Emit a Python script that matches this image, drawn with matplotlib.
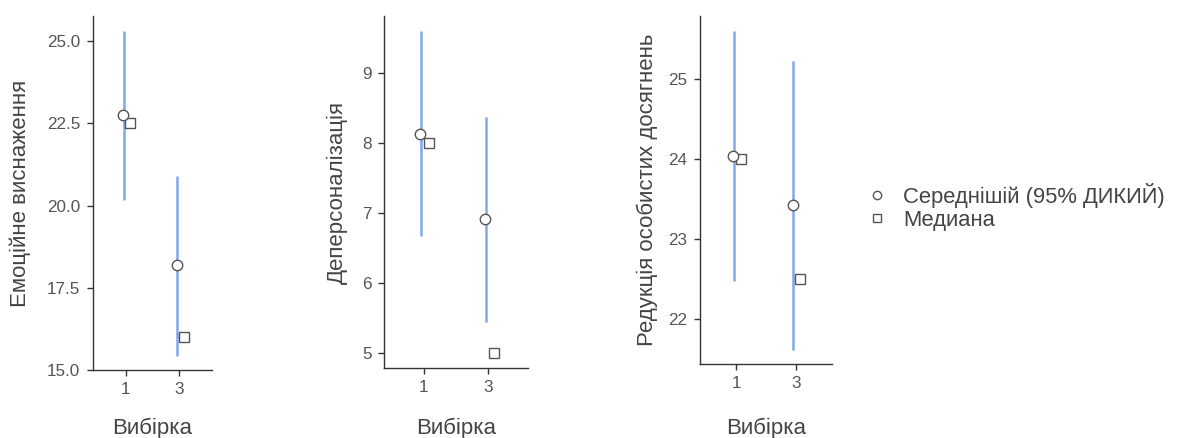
"""Mean (95% CI) and median by sample, three burnout scales side by side."""
import matplotlib
matplotlib.use("Agg")
import matplotlib.pyplot as plt
from matplotlib.lines import Line2D

plt.rcParams["font.family"] = ["Liberation Sans", "DejaVu Sans"]

# ---- data ----
groups = ["1", "3"]
ylabels = ["Емоційне виснаження", "Деперсоналізація", "Редукція особистих досягнень"]
means = [[22.75, 18.18], [8.13, 6.91], [24.04, 23.43]]
ci_low = [[20.18, 15.43], [6.66, 5.44], [22.48, 21.62]]
ci_high = [[25.30, 20.91], [9.60, 8.36], [25.60, 25.23]]
medians = [[22.5, 16.0], [8.0, 5.0], [24.0, 22.5]]
yticks = [[15.0, 17.5, 20.0, 22.5, 25.0], [5, 6, 7, 8, 9], [22, 23, 24, 25]]
ytick_fmt = ["{:.1f}", "{:.0f}", "{:.0f}"]
ylims = [(15.0, 25.76), (4.78, 9.81), (21.44, 25.79)]
legend_labels = ["Середнішій (95% ДИКИЙ)", "Медиана"]

CI_COLOR = "#7ea9ee"
EDGE = "#555555"
TEXT = "#444444"

W, H = 1190, 438
# axes boxes in pixels: left, right, top, bottom
boxes = [(93, 212, 16, 370), (384, 528, 16, 368), (700, 832, 16, 364)]
ylabel_x = [20, 337, 647]

fig = plt.figure(figsize=(W / 100, H / 100), dpi=100)

for i, (l, r, t, b) in enumerate(boxes):
    ax = fig.add_axes([l / W, 1 - b / H, (r - l) / W, (b - t) / H])
    xs = list(range(len(groups)))
    for j, x in enumerate(xs):
        ax.plot([x - 0.04, x - 0.04], [ci_low[i][j], ci_high[i][j]],
                color=CI_COLOR, lw=1.8, solid_capstyle="butt", zorder=1)
    ax.plot([x - 0.05 for x in xs], means[i], "o", ms=7.5, mfc="white",
            mec=EDGE, mew=1.0, ls="none", zorder=3)
    ax.plot([x + 0.08 for x in xs], medians[i], "s", ms=6.5, mfc="white",
            mec=EDGE, mew=1.0, ls="none", zorder=2)

    ax.set_xlim(-0.61, 1.61)
    ax.set_ylim(*ylims[i])
    ax.set_xticks(xs)
    ax.set_xticklabels(groups)
    ax.set_yticks(yticks[i])
    ax.set_yticklabels([ytick_fmt[i].format(v) for v in yticks[i]])

    for side in ("top", "right"):
        ax.spines[side].set_visible(False)
    for side in ("left", "bottom"):
        ax.spines[side].set_color("#333333")
        ax.spines[side].set_linewidth(1.0)
    ax.tick_params(axis="both", length=4, width=1.0, color="#333333",
                   labelcolor="#555555", labelsize=12.3, pad=5)

    # axis titles placed in figure pixels to match the reference layout
    fig.text(((l + r) / 2) / W, 1 - 428 / H, "Вибірка", ha="center", va="center",
             fontsize=16, color=TEXT)
    fig.text(ylabel_x[i] / W, 1 - ((t + b) / 2) / H, ylabels[i], rotation=90,
             ha="center", va="center", fontsize=16, color=TEXT)

handles = [
    Line2D([], [], marker="o", ls="none", ms=6, mfc="white", mec=EDGE, mew=1.0),
    Line2D([], [], marker="s", ls="none", ms=5.5, mfc="white", mec=EDGE, mew=1.0),
]
fig.legend(handles, legend_labels, loc="center left",
           bbox_to_anchor=(857 / W, 1 - 207 / H), frameon=False,
           fontsize=15.8, labelcolor=TEXT, handlelength=1.0, handletextpad=0.7,
           labelspacing=0.1, borderaxespad=0)

fig.savefig("out.png", dpi=100)
